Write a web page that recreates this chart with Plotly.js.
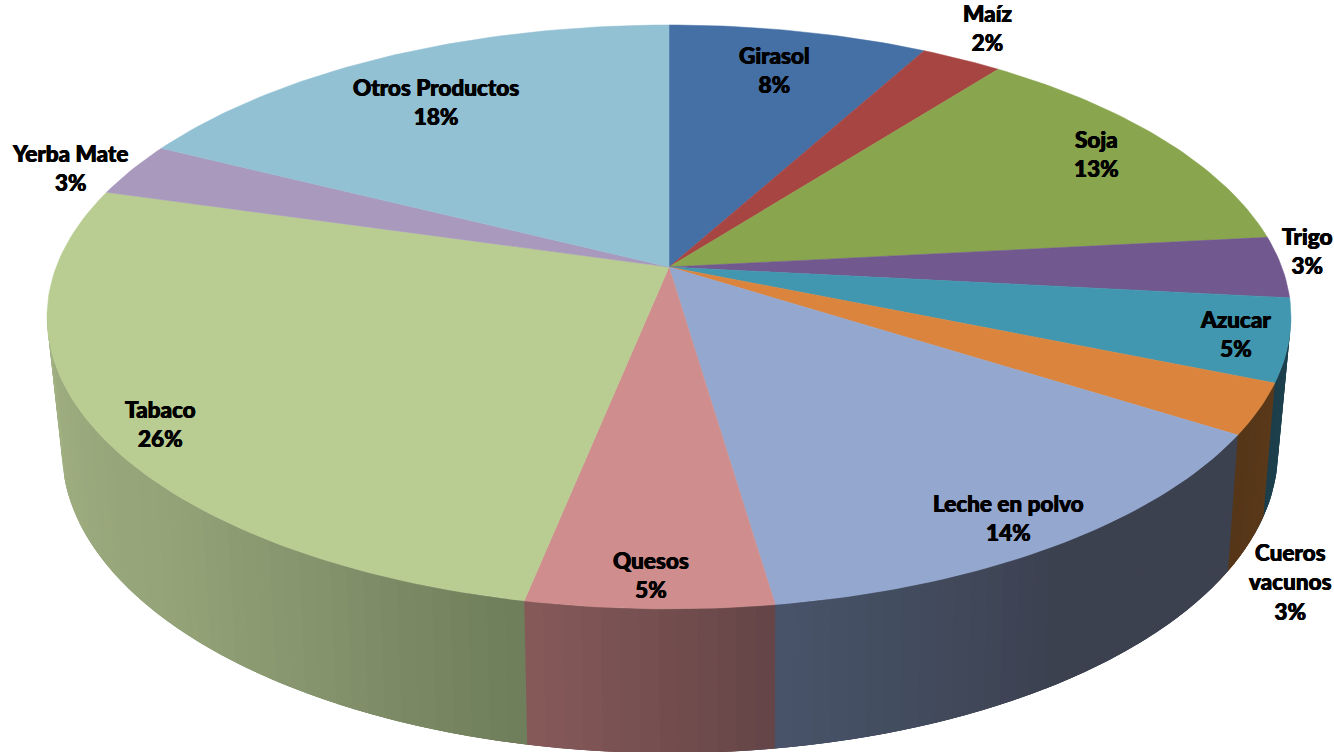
<!DOCTYPE html>
<html>
<head>
<meta charset="utf-8">
<script src="https://cdn.plot.ly/plotly-3.0.1.min.js"></script>
<style>html,body{margin:0;padding:0;background:#fff;overflow:hidden}</style>
</head>
<body>
<div id="chart" style="width:1334px;height:752px"></div>
<script>
// ---- data ----
const categories = ["Girasol","Maíz","Soja","Trigo","Azucar","Cueros<br>vacunos","Leche en polvo","Quesos","Tabaco","Yerba Mate","Otros Productos"];
const values = [7.95, 2.49, 12.86, 3.4, 4.55, 2.8, 13.65, 5.45, 26.3, 3.0, 17.55];

// ---- styles ----
const topColors = [[69,112,165],[167,69,66],[137,165,78],[113,88,143],[65,151,175],[219,132,61],[147,167,207],[207,142,141],[185,205,146],[168,153,189],[146,193,212]];
// wall shade stops, in the direction the slice sweeps (clockwise)
const wallColors = [null,null,null,null,
  [[28,66,78],[28,62,74]],
  [[90,56,26],[86,54,24]],
  [[60,65,80],[60,65,80],[72,84,106]],
  [[100,68,70],[135,90,90]],
  [[110,125,90],[132,147,108],[148,163,120],[155,170,125],[162,177,130]],
  null,null];
const labelX = [774,987,1096,1307,1235,1290,1008,651,160,70,436];
const labelY = [70,28,154,251,334,582,518,575,424,168,102];

// ---- projection of the tilted disc ----
const rim = {
  top:    {cx:669, cy:267, A:612.8, B:283.4, k:0.171},
  bottom: {cx:670, cy:397, A:598,   B:292,   k:0.18}
};
function project(r, deg){
  const t = deg*Math.PI/180, X = Math.sin(t), Y = Math.cos(t), w = 1 + r.k*Y;
  return [r.cx + r.A*X/w, r.cy - r.B*Y/w];
}
const rgb = c => `rgb(${c.map(Math.round).join(",")})`;
function shade(stops, f){
  const p = f*(stops.length-1), i = Math.min(Math.floor(p), stops.length-2), u = p-i;
  return stops[i].map((q,j)=> q+(stops[i+1][j]-q)*u);
}
const total = values.reduce((a,b)=>a+b,0);
const bounds = [0];
values.forEach(v => bounds.push(bounds[bounds.length-1] + v/total*360));

const traces = [];
const WALL_FROM = 99, WALL_TO = 261, STEP = 1.5, OVERLAP = 3;

// side wall strips: each one runs on under the next so that no seam shows
values.forEach((v,i)=>{
  if(!wallColors[i]) return;
  const a = Math.max(bounds[i], WALL_FROM), b = Math.min(bounds[i+1], WALL_TO);
  if(b <= a) return;
  const n = Math.max(1, Math.round((b-a)/STEP));
  for(let s=0;s<n;s++){
    const t0 = a+(b-a)*s/n, t1 = Math.min(a+(b-a)*(s+1)/n+OVERLAP, WALL_TO);
    const c = rgb(shade(wallColors[i],(s+0.5)/n));
    const p = [];
    for(let u=0;u<=4;u++) p.push(project(rim.top,t0+(t1-t0)*u/4));
    for(let u=4;u>=0;u--) p.push(project(rim.bottom,t0+(t1-t0)*u/4));
    traces.push({type:"scatter",mode:"lines",x:p.map(q=>q[0]),y:p.map(q=>q[1]),fill:"toself",
      fillcolor:c,line:{width:0},hoverinfo:"skip",showlegend:false});
  }
});

// top slices
values.forEach((v,i)=>{
  const xs=[rim.top.cx], ys=[rim.top.cy];
  const n = Math.max(4, Math.ceil((bounds[i+1]-bounds[i])));
  for(let s=0;s<=n;s++){
    const q = project(rim.top, bounds[i]+(bounds[i+1]-bounds[i])*s/n);
    xs.push(q[0]); ys.push(q[1]);
  }
  xs.push(rim.top.cx); ys.push(rim.top.cy);
  const c = rgb(topColors[i]);
  traces.push({type:"scatter",mode:"lines",x:xs,y:ys,fill:"toself",fillcolor:c,
    line:{color:c,width:0.5},hoverinfo:"text",
    text:categories[i].replace("<br>"," ")+" "+Math.round(v/total*100)+"%",showlegend:false});
});

const annotations = categories.map((c,i)=>({
  x:labelX[i], y:labelY[i], xref:"x", yref:"y", showarrow:false, align:"center",
  xanchor:"center", yanchor:"middle",
  text:c+"<br>"+Math.round(values[i]/total*100)+"%",
  font:{family:"Lato, 'Open Sans', sans-serif",size:22.5,color:"#000",weight:900,
        shadow:"0.4px 0 0 #000, -0.4px 0 0 #000"}
}));

Plotly.newPlot("chart",traces,{
  width:1334,height:752,margin:{l:0,r:0,t:0,b:0,pad:0},
  paper_bgcolor:"#fff",plot_bgcolor:"#fff",showlegend:false,
  xaxis:{range:[0,1334],visible:false,fixedrange:true},
  yaxis:{range:[752,0],visible:false,fixedrange:true},
  annotations:annotations
},{displayModeBar:false});
</script>
</body>
</html>
